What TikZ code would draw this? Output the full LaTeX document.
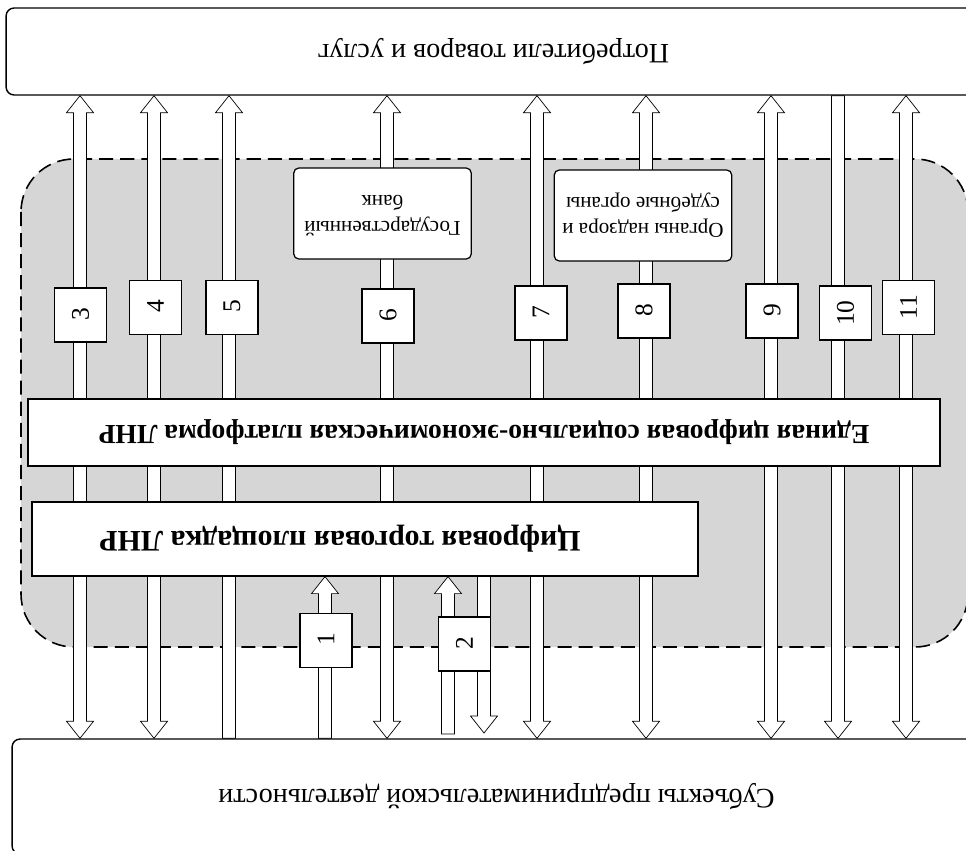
\documentclass[tikz,border=0pt]{standalone}
\usepackage{fontspec}
\setmainfont{Liberation Serif}
\usetikzlibrary{calc}

\pgfdeclarelayer{back}
\pgfdeclarelayer{flows}
\pgfsetlayers{back,flows,main}

\newcommand{\turnover}[1]{\rotatebox[origin=c]{180}{#1}}

\tikzset{
  outer/.style={draw, fill=white, rounded corners=0.16cm, line width=0.8pt, font=\fontsize{16}{19}\selectfont},
  body/.style={draw, fill=white, rounded corners=0.1cm, minimum width=3.55cm, minimum height=1.82cm, font=\fontsize{12}{14.8}\selectfont},
  platform/.style={draw, fill=white, font=\fontsize{15.7}{19}\selectfont\bfseries},
  numbox/.style={draw, fill=white, minimum width=1.04cm, minimum height=1.08cm, inner sep=0pt, font=\fontsize{14.5}{17}\selectfont},
  region/.style={draw, line width=0.9pt, dash pattern=on 8pt off 4pt, fill=black!16, rounded corners=1.06cm},
  flowboth/.style={draw, fill=white, to path={
    -- ($(\tikztostart)+(13.5,17)$) -- ($(\tikztostart)+(6.5,17)$)
    -- ($(\tikztotarget)+(6.5,-17)$) -- ($(\tikztotarget)+(13.5,-17)$)
    -- (\tikztotarget) -- ($(\tikztotarget)+(-13.5,-17)$)
    -- ($(\tikztotarget)+(-6.5,-17)$) -- ($(\tikztostart)+(-6.5,17)$)
    -- ($(\tikztostart)+(-13.5,17)$) -- cycle}},
  flowup/.style={draw, fill=white, to path={
    -- ($(\tikztostart)+(13.5,17)$) -- ($(\tikztostart)+(6.5,17)$)
    -- ($(\tikztotarget)+(6.5,0)$) -- ($(\tikztotarget)+(-6.5,0)$)
    -- ($(\tikztostart)+(-6.5,17)$) -- ($(\tikztostart)+(-13.5,17)$) -- cycle}},
  flowdown/.style={draw, fill=white, to path={
    -- ($(\tikztostart)+(6.5,0)$) -- ($(\tikztotarget)+(6.5,-17)$)
    -- ($(\tikztotarget)+(13.5,-17)$) -- (\tikztotarget)
    -- ($(\tikztotarget)+(-13.5,-17)$) -- ($(\tikztotarget)+(-6.5,-17)$)
    -- ($(\tikztostart)+(-6.5,0)$) -- cycle}}
}

\begin{document}
\begin{tikzpicture}[x=0.02cm, y=-0.02cm, line width=0.7pt]
  \useasboundingbox (0,0) rectangle (966,851);

  % outer parties
  \node[outer, minimum width=19.5cm, minimum height=1.74cm] (consumers) at (493.5,51.5) {\turnover{Потребители товаров и услуг}};
  \node[outer, minimum width=19.38cm, minimum height=2.3cm] (subjects) at (496.5,796.5) {\turnover{Субъекты предпринимательской деятельности}};

  % platforms
  \node[platform, minimum width=18.24cm, minimum height=1.34cm] (unified) at (484,432.5) {\turnover{Единая цифровая социально-экономическая платформа ЛНР}};
  \node[platform, minimum width=13.32cm, minimum height=1.48cm, font=\fontsize{17}{20}\selectfont\bfseries] (trade) at (365,539) {\turnover{\hspace*{1cm}Цифровая торговая площадка ЛНР}};

  \node[body] (bank) at (382.5,213.5) {\turnover{\begin{tabular}{@{}c@{}}Государственный\\ банк\end{tabular}}};
  \node[body] (organs) at (643,215.5) {\turnover{\begin{tabular}{@{}c@{}}Органы надзора и\\ судебные органы\end{tabular}}};

  \foreach \n/\x/\y in {1/326/640.5, 2/464.5/644, 3/80.5/315, 4/155.5/307.5, 5/232/307.5,
      6/388/316, 7/541/313, 8/644/311, 9/772/311, 10/845.5/313, 11/908.5/307.5}
    \node[numbox] (num\n) at (\x,\y) {\rotatebox[origin=c]{90}{\n}};

  % flows
  \begin{pgfonlayer}{flows}
    \foreach \n/\x in {3/80, 4/154, 6/387, 7/537, 8/646, 9/771, 11/906}{
      \coordinate (top\n) at (\x,0 |- consumers.south);
      \coordinate (bot\n) at (\x,0 |- subjects.north);
      \draw[flowboth] (top\n) to (bot\n);
    }
    \coordinate (top5) at (229,0 |- consumers.south);
    \coordinate (bot5) at (229,0 |- subjects.north);
    \draw[flowup] (top5) to (bot5);
    \coordinate (top10) at (838,0 |- consumers.south);
    \coordinate (bot10) at (838,0 |- subjects.north);
    \draw[flowdown] (top10) to (bot10);

    \coordinate (top1) at (325,0 |- trade.south);
    \coordinate (bot1) at (325,0 |- subjects.north);
    \draw[flowup] (top1) to (bot1);
    \coordinate (top2a) at (448,0 |- trade.south);
    \coordinate (bot2a) at (448,734);
    \draw[flowup] (top2a) to (bot2a);
    \coordinate (top2b) at (484,0 |- trade.south);
    \coordinate (bot2b) at (484,733);
    \draw[flowdown] (top2b) to (bot2b);
  \end{pgfonlayer}

  % shaded zone
  \begin{pgfonlayer}{back}
    \draw[region] (21,159) rectangle (968,647);
  \end{pgfonlayer}
\end{tikzpicture}
\end{document}
